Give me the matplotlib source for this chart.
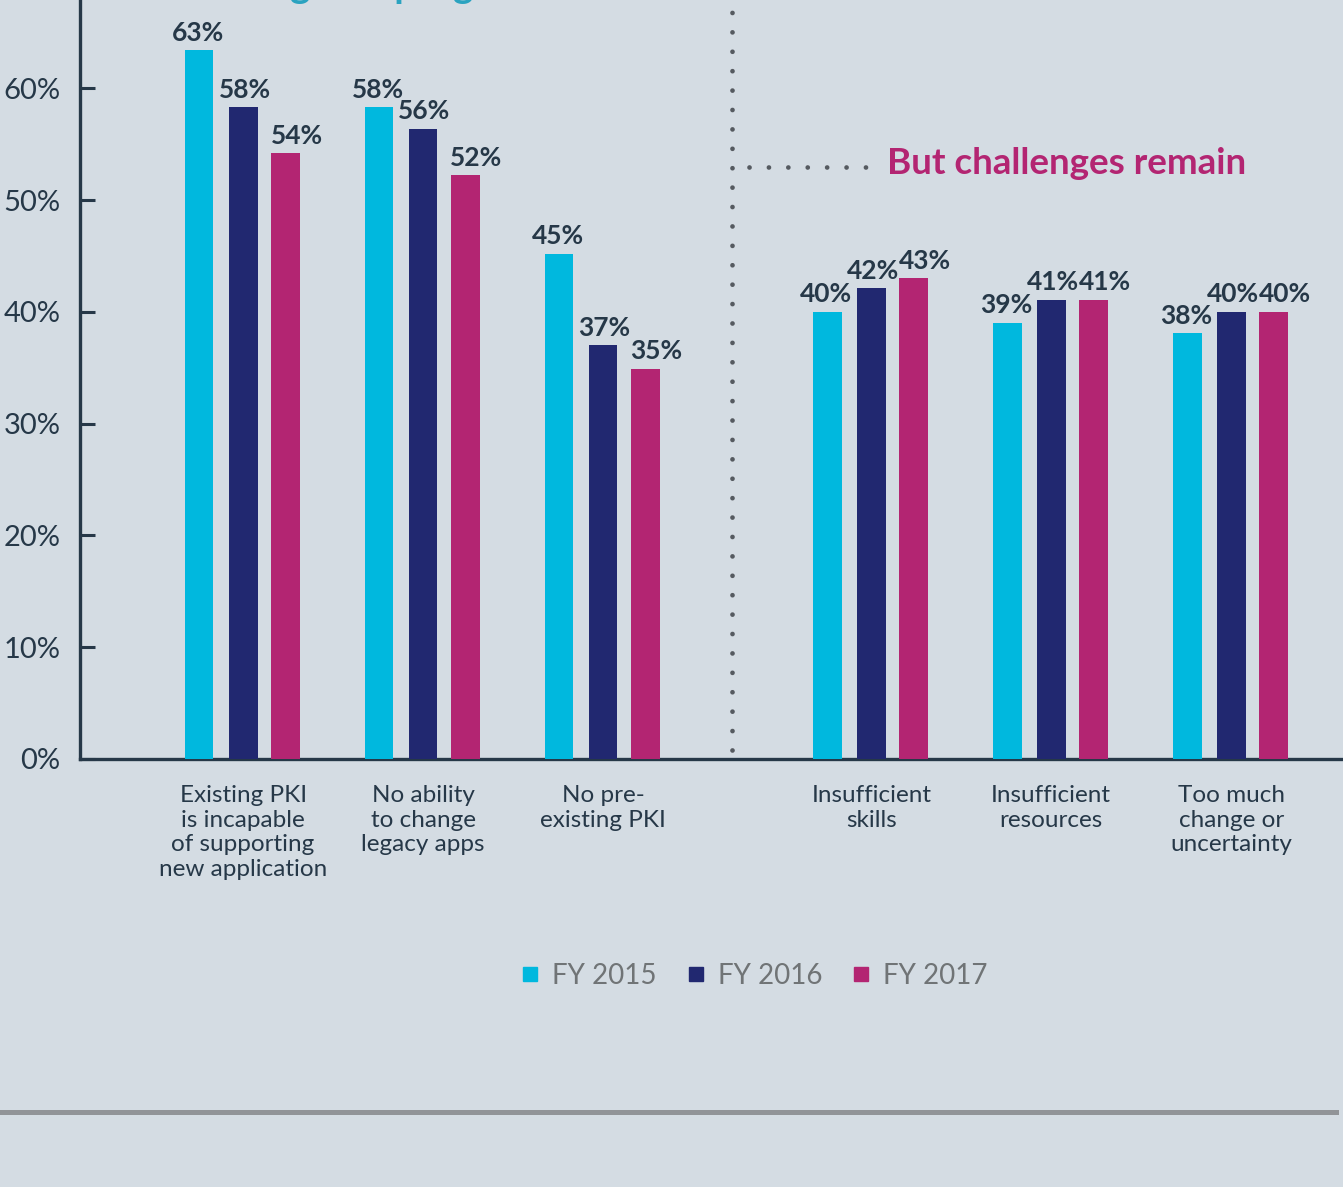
import matplotlib.pyplot as plt
from matplotlib.lines import Line2D

plt.rcParams["font.family"] = ["Lato", "DejaVu Sans"]

categories = ["Existing PKI\nis incapable\nof supporting\nnew application",
              "No ability\nto change\nlegacy apps",
              "No pre-\nexisting PKI",
              "Insufficient\nskills",
              "Insufficient\nresources",
              "Too much\nchange or\nuncertainty"]
years = ["FY 2015", "FY 2016", "FY 2017"]
fy2015 = [63.4, 58.3, 45.2, 40.0, 39.0, 38.1]
fy2016 = [58.3, 56.4, 37.0, 42.1, 41.1, 40.0]
fy2017 = [54.2, 52.2, 34.9, 43.0, 41.1, 40.0]
yticks = [0, 10, 20, 30, 40, 50, 60]

bg = "#d4dce3"
colors = ["#00b8de", "#212870", "#b32572"]
dark = "#263848"

fig = plt.figure(figsize=(13.43, 11.87), dpi=100, facecolor=bg)
ax = fig.add_axes([0.0596, 0.3606, 0.9404, 0.6394])
ax.set_facecolor(bg)

pos = [0, 1, 2, 3.49, 4.49, 5.49]
offsets = [-0.245, 0, 0.235]
label_dx = [-1, 1, 8]
width = 0.16

for i, vals in enumerate([fy2015, fy2016, fy2017]):
    xs = [p + offsets[i] for p in pos]
    ax.bar(xs, vals, width=width, color=colors[i], zorder=3)
    for x, v in zip(xs, vals):
        ax.annotate(f"{round(v)}%", (x, v), xytext=(label_dx[i], 4),
                    textcoords="offset points", ha="center", va="bottom",
                    fontsize=19, fontweight="bold", color=dark)

ax.set_xlim(-0.906, 6.111)
ax.set_ylim(0, 67.9)
ax.set_yticks(yticks)
ax.set_yticklabels([f"{t}%" for t in yticks])
ax.tick_params(axis="y", direction="in", length=11, width=2.2, color=dark,
               labelsize=21, labelcolor=dark, pad=14)
ax.set_xticks(pos)
ax.set_xticklabels(categories, fontsize=17.5, color=dark, linespacing=1.2)
ax.tick_params(axis="x", length=0, pad=19)

for s in ["top", "right"]:
    ax.spines[s].set_visible(False)
for s in ["left", "bottom"]:
    ax.spines[s].set_color(dark)
    ax.spines[s].set_linewidth(2.4)
ax.spines["left"].set_zorder(4)

# dotted divider and callout
ax.plot([2.717, 2.717], [0.8, 67.9], color="#555a60", lw=3.4,
        linestyle=(0, (0.01, 4.1)), dash_capstyle="round", clip_on=False)
ax.plot([2.81, 3.46], [53.0, 53.0], color="#555a60", lw=3.4,
        linestyle=(0, (0.01, 4.1)), dash_capstyle="round")
ax.text(3.58, 53.3, "But challenges remain", fontsize=26.5, fontweight="bold",
        color="#b32572", va="center", ha="left")

# heading, mostly cut off by the top edge as in the original
fig.text(0.135, 1.002, "Making real progress", fontsize=28, fontweight="bold",
         color="#2aa3c0", va="baseline", ha="left")

handles = [Line2D([], [], marker="s", linestyle="", markersize=9.5,
                  color=c) for c in colors]
fig.legend(handles, years, loc="center", bbox_to_anchor=(0.56, 0.178),
           ncol=3, frameon=False, fontsize=20, labelcolor="#707476",
           handletextpad=0.3, columnspacing=0.9, handlelength=1.0)

fig.add_artist(Line2D([0, 0.9948], [0.0636, 0.0636], color="#919498", lw=3.6))

fig.savefig("out.png", dpi=100, facecolor=bg)
